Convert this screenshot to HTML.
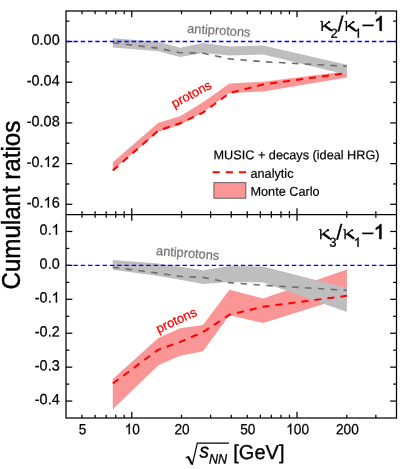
<!DOCTYPE html>
<html><head><meta charset="utf-8"><title>Cumulant ratios</title>
<style>
html,body{margin:0;padding:0;background:#fff;}
body{width:407px;height:469px;overflow:hidden;}
svg{display:block;will-change:transform;font-family:"Liberation Sans",sans-serif;}
</style></head><body>
<svg width="407" height="469" viewBox="0 0 407 469">
<rect x="0" y="0" width="407" height="469" fill="#fff"/>
<polygon fill="#fa9696" points="112.8,162.3 158.4,122.8 180.1,116.2 203.0,102.3 229.4,83.6 263.2,81.8 346.9,71.2 346.9,77.6 263.2,91.4 229.4,92.9 203.0,112.3 180.1,125.1 158.4,131.8 112.8,169.9"/>
<polygon fill="#bebebe" points="112.8,38.2 158.4,41.8 180.1,47.8 203.0,43.1 229.4,46.4 263.2,45.5 346.9,64.8 346.9,74.7 263.2,54.5 229.4,55.5 203.0,52.9 180.1,57.1 158.4,51.2 112.8,47.5"/>
<polygon fill="#fa9696" points="112.8,378.9 158.4,338.1 180.1,328.2 203.0,325.0 229.4,289.7 263.2,298.6 346.9,269.4 346.9,296.7 263.2,323.1 229.4,315.3 203.0,351.2 180.1,355.8 158.4,365.3 112.8,409.3"/>
<polygon fill="#bebebe" points="112.8,259.9 158.4,263.6 180.1,266.8 203.0,270.3 229.4,265.9 263.2,266.4 346.9,288.0 346.9,311.9 263.2,282.5 229.4,282.1 203.0,284.1 180.1,279.8 158.4,276.1 112.8,269.7"/>
<polyline fill="none" stroke="#ff0000" stroke-width="2.0" stroke-dasharray="7.1 6.0" points="112.8,170.6 158.4,130.6 180.1,123.2 203.0,112.6 229.4,93.2 263.2,84.4 346.9,73.2"/>
<polyline fill="none" stroke="#6e6e6e" stroke-width="1.6" stroke-dasharray="6.5 6.4" points="112.8,42.8 158.4,48.2 180.1,52.7 203.0,53.2 229.4,58.9 263.2,61.7 346.9,66.3"/>
<polyline fill="none" stroke="#ff0000" stroke-width="2.0" stroke-dasharray="7.1 6.0" points="112.8,383.5 158.4,349.6 180.1,342.0 203.0,332.1 229.4,314.8 263.2,306.7 346.9,295.8"/>
<polyline fill="none" stroke="#6e6e6e" stroke-width="1.6" stroke-dasharray="6.5 6.4" points="112.8,267.2 158.4,273.2 180.1,276.4 203.0,277.4 229.4,282.6 263.2,285.3 346.9,290.3"/>
<g stroke="#000" stroke-width="1.25" fill="none">
<rect x="66.0" y="11.0" width="330.5" height="407.0"/>
<line x1="66.0" x2="396.5" y1="214.5" y2="214.5"/>
<line x1="131.76" x2="131.76" y1="11.0" y2="17.3"/>
<line x1="131.76" x2="131.76" y1="208.2" y2="220.8"/>
<line x1="131.76" x2="131.76" y1="418.0" y2="411.7"/>
<line x1="297.01" x2="297.01" y1="11.0" y2="17.3"/>
<line x1="297.01" x2="297.01" y1="208.2" y2="220.8"/>
<line x1="297.01" x2="297.01" y1="418.0" y2="411.7"/>
<line x1="82.01" x2="82.01" y1="11.0" y2="14.3"/>
<line x1="82.01" x2="82.01" y1="211.2" y2="217.8"/>
<line x1="82.01" x2="82.01" y1="418.0" y2="414.7"/>
<line x1="95.10" x2="95.10" y1="11.0" y2="14.3"/>
<line x1="95.10" x2="95.10" y1="211.2" y2="217.8"/>
<line x1="95.10" x2="95.10" y1="418.0" y2="414.7"/>
<line x1="106.16" x2="106.16" y1="11.0" y2="14.3"/>
<line x1="106.16" x2="106.16" y1="211.2" y2="217.8"/>
<line x1="106.16" x2="106.16" y1="418.0" y2="414.7"/>
<line x1="115.75" x2="115.75" y1="11.0" y2="14.3"/>
<line x1="115.75" x2="115.75" y1="211.2" y2="217.8"/>
<line x1="115.75" x2="115.75" y1="418.0" y2="414.7"/>
<line x1="124.20" x2="124.20" y1="11.0" y2="14.3"/>
<line x1="124.20" x2="124.20" y1="211.2" y2="217.8"/>
<line x1="124.20" x2="124.20" y1="418.0" y2="414.7"/>
<line x1="181.51" x2="181.51" y1="11.0" y2="14.3"/>
<line x1="181.51" x2="181.51" y1="211.2" y2="217.8"/>
<line x1="181.51" x2="181.51" y1="418.0" y2="414.7"/>
<line x1="210.60" x2="210.60" y1="11.0" y2="14.3"/>
<line x1="210.60" x2="210.60" y1="211.2" y2="217.8"/>
<line x1="210.60" x2="210.60" y1="418.0" y2="414.7"/>
<line x1="231.25" x2="231.25" y1="11.0" y2="14.3"/>
<line x1="231.25" x2="231.25" y1="211.2" y2="217.8"/>
<line x1="231.25" x2="231.25" y1="418.0" y2="414.7"/>
<line x1="247.26" x2="247.26" y1="11.0" y2="14.3"/>
<line x1="247.26" x2="247.26" y1="211.2" y2="217.8"/>
<line x1="247.26" x2="247.26" y1="418.0" y2="414.7"/>
<line x1="260.35" x2="260.35" y1="11.0" y2="14.3"/>
<line x1="260.35" x2="260.35" y1="211.2" y2="217.8"/>
<line x1="260.35" x2="260.35" y1="418.0" y2="414.7"/>
<line x1="271.41" x2="271.41" y1="11.0" y2="14.3"/>
<line x1="271.41" x2="271.41" y1="211.2" y2="217.8"/>
<line x1="271.41" x2="271.41" y1="418.0" y2="414.7"/>
<line x1="281.00" x2="281.00" y1="11.0" y2="14.3"/>
<line x1="281.00" x2="281.00" y1="211.2" y2="217.8"/>
<line x1="281.00" x2="281.00" y1="418.0" y2="414.7"/>
<line x1="289.45" x2="289.45" y1="11.0" y2="14.3"/>
<line x1="289.45" x2="289.45" y1="211.2" y2="217.8"/>
<line x1="289.45" x2="289.45" y1="418.0" y2="414.7"/>
<line x1="346.76" x2="346.76" y1="11.0" y2="14.3"/>
<line x1="346.76" x2="346.76" y1="211.2" y2="217.8"/>
<line x1="346.76" x2="346.76" y1="418.0" y2="414.7"/>
<line x1="375.85" x2="375.85" y1="11.0" y2="14.3"/>
<line x1="375.85" x2="375.85" y1="211.2" y2="217.8"/>
<line x1="375.85" x2="375.85" y1="418.0" y2="414.7"/>
<line x1="66.0" x2="72.3" y1="204.30" y2="204.30"/>
<line x1="396.5" x2="390.2" y1="204.30" y2="204.30"/>
<line x1="66.0" x2="69.3" y1="183.95" y2="183.95"/>
<line x1="396.5" x2="393.2" y1="183.95" y2="183.95"/>
<line x1="66.0" x2="72.3" y1="163.60" y2="163.60"/>
<line x1="396.5" x2="390.2" y1="163.60" y2="163.60"/>
<line x1="66.0" x2="69.3" y1="143.25" y2="143.25"/>
<line x1="396.5" x2="393.2" y1="143.25" y2="143.25"/>
<line x1="66.0" x2="72.3" y1="122.90" y2="122.90"/>
<line x1="396.5" x2="390.2" y1="122.90" y2="122.90"/>
<line x1="66.0" x2="69.3" y1="102.55" y2="102.55"/>
<line x1="396.5" x2="393.2" y1="102.55" y2="102.55"/>
<line x1="66.0" x2="72.3" y1="82.20" y2="82.20"/>
<line x1="396.5" x2="390.2" y1="82.20" y2="82.20"/>
<line x1="66.0" x2="69.3" y1="61.85" y2="61.85"/>
<line x1="396.5" x2="393.2" y1="61.85" y2="61.85"/>
<line x1="66.0" x2="72.3" y1="41.50" y2="41.50"/>
<line x1="396.5" x2="390.2" y1="41.50" y2="41.50"/>
<line x1="66.0" x2="69.3" y1="21.15" y2="21.15"/>
<line x1="396.5" x2="393.2" y1="21.15" y2="21.15"/>
<line x1="66.0" x2="72.3" y1="401.07" y2="401.07"/>
<line x1="396.5" x2="390.2" y1="401.07" y2="401.07"/>
<line x1="66.0" x2="69.3" y1="384.11" y2="384.11"/>
<line x1="396.5" x2="393.2" y1="384.11" y2="384.11"/>
<line x1="66.0" x2="72.3" y1="367.15" y2="367.15"/>
<line x1="396.5" x2="390.2" y1="367.15" y2="367.15"/>
<line x1="66.0" x2="69.3" y1="350.19" y2="350.19"/>
<line x1="396.5" x2="393.2" y1="350.19" y2="350.19"/>
<line x1="66.0" x2="72.3" y1="333.23" y2="333.23"/>
<line x1="396.5" x2="390.2" y1="333.23" y2="333.23"/>
<line x1="66.0" x2="69.3" y1="316.28" y2="316.28"/>
<line x1="396.5" x2="393.2" y1="316.28" y2="316.28"/>
<line x1="66.0" x2="72.3" y1="299.32" y2="299.32"/>
<line x1="396.5" x2="390.2" y1="299.32" y2="299.32"/>
<line x1="66.0" x2="69.3" y1="282.36" y2="282.36"/>
<line x1="396.5" x2="393.2" y1="282.36" y2="282.36"/>
<line x1="66.0" x2="72.3" y1="265.40" y2="265.40"/>
<line x1="396.5" x2="390.2" y1="265.40" y2="265.40"/>
<line x1="66.0" x2="69.3" y1="248.44" y2="248.44"/>
<line x1="396.5" x2="393.2" y1="248.44" y2="248.44"/>
<line x1="66.0" x2="72.3" y1="231.48" y2="231.48"/>
<line x1="396.5" x2="390.2" y1="231.48" y2="231.48"/>
</g>
<line x1="66.15" x2="395.9" y1="41.5" y2="41.5" stroke="#0000ff" stroke-width="1.3" stroke-dasharray="4.4 2.882"/>
<line x1="66.15" x2="395.9" y1="265.4" y2="265.4" stroke="#0000ff" stroke-width="1.3" stroke-dasharray="4.4 2.882"/>
<g transform="translate(59.70,44.80) rotate(0.03) scale(0.97,1)" font-size="14.9" fill="#000" stroke="#000" stroke-width="0.25"><text x="-29.00" y="0">0.00</text></g>
<g transform="translate(59.70,85.50) rotate(0.03) scale(0.97,1)" font-size="14.9" fill="#000" stroke="#000" stroke-width="0.25"><text x="-33.96" y="0">-0.04</text></g>
<g transform="translate(59.70,126.20) rotate(0.03) scale(0.97,1)" font-size="14.9" fill="#000" stroke="#000" stroke-width="0.25"><text x="-33.96" y="0">-0.08</text></g>
<g transform="translate(59.70,166.90) rotate(0.03) scale(0.97,1)" font-size="14.9" fill="#000" stroke="#000" stroke-width="0.25"><text x="-33.96" y="0">-0.</text><path transform="translate(-16.57,0) scale(0.007275,-0.007275)" d="M763 0H583V1147Q518 1085 412.5 1023Q307 961 223 930V1104Q374 1175 487 1276Q600 1377 647 1472H763Z" stroke-width="34.4"/><text x="-8.28" y="0">2</text></g>
<g transform="translate(59.70,207.60) rotate(0.03) scale(0.97,1)" font-size="14.9" fill="#000" stroke="#000" stroke-width="0.25"><text x="-33.96" y="0">-0.</text><path transform="translate(-16.57,0) scale(0.007275,-0.007275)" d="M763 0H583V1147Q518 1085 412.5 1023Q307 961 223 930V1104Q374 1175 487 1276Q600 1377 647 1472H763Z" stroke-width="34.4"/><text x="-8.28" y="0">6</text></g>
<g transform="translate(59.70,234.78) rotate(0.03) scale(0.97,1)" font-size="14.9" fill="#000" stroke="#000" stroke-width="0.25"><text x="-20.71" y="0">0.</text><path transform="translate(-8.28,0) scale(0.007275,-0.007275)" d="M763 0H583V1147Q518 1085 412.5 1023Q307 961 223 930V1104Q374 1175 487 1276Q600 1377 647 1472H763Z" stroke-width="34.4"/></g>
<g transform="translate(59.70,268.70) rotate(0.03) scale(0.97,1)" font-size="14.9" fill="#000" stroke="#000" stroke-width="0.25"><text x="-20.71" y="0">0.0</text></g>
<g transform="translate(59.70,302.62) rotate(0.03) scale(0.97,1)" font-size="14.9" fill="#000" stroke="#000" stroke-width="0.25"><text x="-25.67" y="0">-0.</text><path transform="translate(-8.28,0) scale(0.007275,-0.007275)" d="M763 0H583V1147Q518 1085 412.5 1023Q307 961 223 930V1104Q374 1175 487 1276Q600 1377 647 1472H763Z" stroke-width="34.4"/></g>
<g transform="translate(59.70,336.53) rotate(0.03) scale(0.97,1)" font-size="14.9" fill="#000" stroke="#000" stroke-width="0.25"><text x="-25.67" y="0">-0.2</text></g>
<g transform="translate(59.70,370.45) rotate(0.03) scale(0.97,1)" font-size="14.9" fill="#000" stroke="#000" stroke-width="0.25"><text x="-25.67" y="0">-0.3</text></g>
<g transform="translate(59.70,404.37) rotate(0.03) scale(0.97,1)" font-size="14.9" fill="#000" stroke="#000" stroke-width="0.25"><text x="-25.67" y="0">-0.4</text></g>
<g transform="translate(82.61,434.20) rotate(0.03) scale(0.925,1)" font-size="14.8" fill="#000" stroke="#000" stroke-width="0.25"><text x="-4.11" y="0">5</text></g>
<g transform="translate(132.36,434.20) rotate(0.03) scale(0.925,1)" font-size="14.8" fill="#000" stroke="#000" stroke-width="0.25"><path transform="translate(-8.23,0) scale(0.007227,-0.007227)" d="M763 0H583V1147Q518 1085 412.5 1023Q307 961 223 930V1104Q374 1175 487 1276Q600 1377 647 1472H763Z" stroke-width="34.6"/><text x="0.00" y="0">0</text></g>
<g transform="translate(182.11,434.20) rotate(0.03) scale(0.925,1)" font-size="14.8" fill="#000" stroke="#000" stroke-width="0.25"><text x="-8.23" y="0">20</text></g>
<g transform="translate(247.86,434.20) rotate(0.03) scale(0.925,1)" font-size="14.8" fill="#000" stroke="#000" stroke-width="0.25"><text x="-8.23" y="0">50</text></g>
<g transform="translate(297.61,434.20) rotate(0.03) scale(0.925,1)" font-size="14.8" fill="#000" stroke="#000" stroke-width="0.25"><path transform="translate(-12.34,0) scale(0.007227,-0.007227)" d="M763 0H583V1147Q518 1085 412.5 1023Q307 961 223 930V1104Q374 1175 487 1276Q600 1377 647 1472H763Z" stroke-width="34.6"/><text x="-4.11" y="0">00</text></g>
<g transform="translate(347.36,434.20) rotate(0.03) scale(0.925,1)" font-size="14.8" fill="#000" stroke="#000" stroke-width="0.25"><text x="-12.34" y="0">200</text></g>
<text transform="translate(20.3,289.5) rotate(-90) scale(0.9495,1)" font-size="25.4" fill="#000" stroke="#000" stroke-width="0.45">Cumulant ratios</text>
<g fill="#000" font-size="20" stroke="#000" stroke-width="0.35">
<text transform="translate(199.6,457.6) rotate(0.03) scale(0.95,1)" font-style="italic">s</text>
<text transform="translate(208.9,463.6) rotate(0.03) scale(0.93,1)" font-style="italic" font-size="13.5">NN</text>
<text transform="translate(233.3,459) rotate(0.03)">[GeV]</text>
</g>
<g fill="none" stroke="#000" stroke-linejoin="miter">
<path d="M185.6,458.1 L188.3,456.5" stroke-width="1.1"/>
<path d="M188.0,456.4 L192.0,464.2" stroke-width="2.1"/>
<path d="M192.2,464.9 L197.3,443.1 L228.9,443.1" stroke-width="1.2"/>
</g>
<g fill="#000" stroke="#000" stroke-width="0.3" font-size="20" transform="rotate(0.03)">
<g transform="translate(320.3,30.75) scale(1.05,1.01)" fill="none" stroke="#000"><path d="M1.8,-9.75 L1.8,0.05" stroke-width="1.35"/><path d="M0,-9.45 L1.9,-9.45" stroke-width="0.9"/><path d="M2.2,-3.7 L8.2,-8.9" stroke-width="1.25"/><circle cx="8.5" cy="-8.75" r="1.15" fill="#000" stroke="none"/><path d="M3.9,-5.5 L10.0,-0.75" stroke-width="2.4"/><path d="M9.0,-0.4 L11.1,-0.4" stroke-width="0.9"/></g>
<text x="330.6" y="37.6" font-size="13">2</text>
<text x="337.6" y="31.1" font-size="21.5">/</text>
<g transform="translate(344.5,30.75) scale(1.05,1.01)" fill="none" stroke="#000"><path d="M1.8,-9.75 L1.8,0.05" stroke-width="1.35"/><path d="M0,-9.45 L1.9,-9.45" stroke-width="0.9"/><path d="M2.2,-3.7 L8.2,-8.9" stroke-width="1.25"/><circle cx="8.5" cy="-8.75" r="1.15" fill="#000" stroke="none"/><path d="M3.9,-5.5 L10.0,-0.75" stroke-width="2.4"/><path d="M9.0,-0.4 L11.1,-0.4" stroke-width="0.9"/></g>
<path transform="translate(354.1,37.6) scale(0.006348,-0.006348)" d="M763 0H583V1147Q518 1085 412.5 1023Q307 961 223 930V1104Q374 1175 487 1276Q600 1377 647 1472H763Z" stroke-width="55.1"/>
<text transform="translate(361.6,31.7) scale(1.12,1)">−</text>
<path transform="translate(374.0,30.5) scale(0.009961,-0.009961)" d="M763 0H583V1147Q518 1085 412.5 1023Q307 961 223 930V1104Q374 1175 487 1276Q600 1377 647 1472H763Z" stroke-width="70.3"/>
</g>
<g fill="#000" stroke="#000" stroke-width="0.3" font-size="20" transform="rotate(0.03)">
<g transform="translate(319.1,238.95) scale(1.05,1.01)" fill="none" stroke="#000"><path d="M1.8,-9.75 L1.8,0.05" stroke-width="1.35"/><path d="M0,-9.45 L1.9,-9.45" stroke-width="0.9"/><path d="M2.2,-3.7 L8.2,-8.9" stroke-width="1.25"/><circle cx="8.5" cy="-8.75" r="1.15" fill="#000" stroke="none"/><path d="M3.9,-5.5 L10.0,-0.75" stroke-width="2.4"/><path d="M9.0,-0.4 L11.1,-0.4" stroke-width="0.9"/></g>
<text x="329.40000000000003" y="246.60000000000002" font-size="13">3</text>
<text x="336.40000000000003" y="239.3" font-size="21.5">/</text>
<g transform="translate(343.3,238.95) scale(1.05,1.01)" fill="none" stroke="#000"><path d="M1.8,-9.75 L1.8,0.05" stroke-width="1.35"/><path d="M0,-9.45 L1.9,-9.45" stroke-width="0.9"/><path d="M2.2,-3.7 L8.2,-8.9" stroke-width="1.25"/><circle cx="8.5" cy="-8.75" r="1.15" fill="#000" stroke="none"/><path d="M3.9,-5.5 L10.0,-0.75" stroke-width="2.4"/><path d="M9.0,-0.4 L11.1,-0.4" stroke-width="0.9"/></g>
<path transform="translate(353.90000000000003,246.60000000000002) scale(0.006348,-0.006348)" d="M763 0H583V1147Q518 1085 412.5 1023Q307 961 223 930V1104Q374 1175 487 1276Q600 1377 647 1472H763Z" stroke-width="55.1"/>
<text transform="translate(361.40000000000003,239.9) scale(1.12,1)">−</text>
<path transform="translate(373.8,238.7) scale(0.009961,-0.009961)" d="M763 0H583V1147Q518 1085 412.5 1023Q307 961 223 930V1104Q374 1175 487 1276Q600 1377 647 1472H763Z" stroke-width="70.3"/>
</g>
<text transform="translate(187,32.8) rotate(3.5) scale(0.985,1)" font-size="13" fill="#777" stroke="#777" stroke-width="0.25">antiprotons</text>
<text transform="translate(174.3,108.2) rotate(-28)" font-size="13" fill="#ff0000" stroke="#ff0000" stroke-width="0.25">protons</text>
<text transform="translate(155.8,255) rotate(4.5) scale(0.985,1)" font-size="13" fill="#777" stroke="#777" stroke-width="0.25">antiprotons</text>
<text transform="translate(158.5,333.5) rotate(-25)" font-size="13" fill="#ff0000" stroke="#ff0000" stroke-width="0.25">protons</text>
<text transform="translate(213.5,159.2) rotate(0.03)" font-size="12.7" fill="#000" stroke="#000" stroke-width="0.2">MUSIC + decays (ideal HRG)</text>
<text transform="translate(250.5,177.8) rotate(0.03)" font-size="12.7" fill="#000" stroke="#000" stroke-width="0.2">analytic</text>
<text transform="translate(250.5,195.8) rotate(0.03)" font-size="12.7" fill="#000" stroke="#000" stroke-width="0.2">Monte Carlo</text>
<line x1="212.7" x2="246.2" y1="172.2" y2="172.2" stroke="#ff0000" stroke-width="2.0" stroke-dasharray="7.1 6.0"/>
<rect x="213.9" y="182.7" width="32" height="15.5" fill="#fa9696" stroke="#444" stroke-width="0.8"/>
</svg>
</body></html>
